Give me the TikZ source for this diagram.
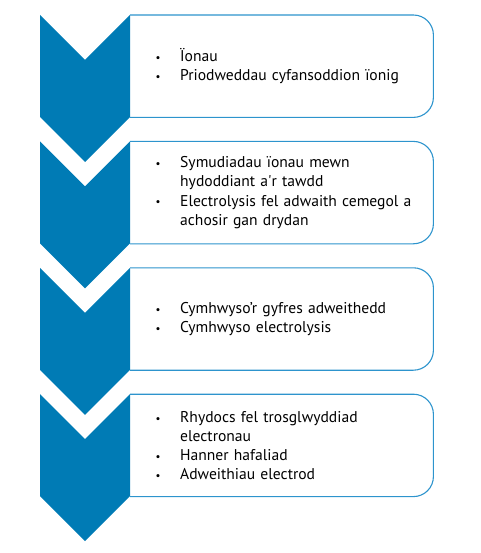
\documentclass[tikz,border=0pt]{standalone}
\usepackage{fontspec}
\setmainfont{PT Sans}
\usetikzlibrary{positioning}

\definecolor{chevblue}{RGB}{0,123,181}
\definecolor{lineblue}{RGB}{45,148,205}

% bullet and hanging indent for the lists
\newcommand{\itm}{\makebox[36pt][l]{\hspace{11.5pt}\scalebox{0.7}{\textbullet}}}
\newcommand{\cont}{\hspace*{36pt}}

\begin{document}
\begin{tikzpicture}[node distance=24pt,
    box/.style={minimum width=303pt, minimum height=102pt, text width=275pt,
                inner xsep=14pt, inner ysep=0pt, align=left,
                font=\fontsize{15.6}{19}\selectfont},
    chev/.style={fill=chevblue},
    edge/.style={draw=lineblue, line width=1.1pt}]
    \useasboundingbox (0,0) rectangle (480pt,-553pt);

    % Boxes
    \node[box, anchor=north west] (b1) at (130pt,-15pt)
        {\itm Ïonau\\
         \itm Priodweddau cyfansoddion ïonig};
    \node[box] (b2) [below=of b1]
        {\itm Symudiadau ïonau mewn\\
         \cont hydoddiant a\textquotesingle r tawdd\\
         \itm Electrolysis fel adwaith cemegol a\\
         \cont achosir gan drydan};
    \node[box] (b3) [below=of b2]
        {\itm Cymhwyso’r gyfres adweithedd\\
         \itm Cymhwyso electrolysis};
    \node[box] (b4) [below=of b3]
        {\itm Rhydocs fel trosglwyddiad\\
         \cont electronau\\
         \itm Hanner hafaliad\\
         \itm Adweithiau electrod};

    % Chevrons and box outlines
    \foreach \b in {b1,b2,b3,b4} {
        \fill[chev] (\b.north west) -- ++(-45pt,-45pt) -- ++(-45pt,45pt)
            -- ++(0,-102pt) -- ++(45pt,-45pt) -- ++(45pt,45pt) -- cycle;
        \draw[edge] (\b.north west) -- ([xshift=-20pt]\b.north east)
            arc[start angle=90, end angle=0, radius=20pt]
            -- ([yshift=20pt]\b.south east)
            arc[start angle=0, end angle=-90, radius=20pt]
            -- (\b.south west);
    }
\end{tikzpicture}
\end{document}
